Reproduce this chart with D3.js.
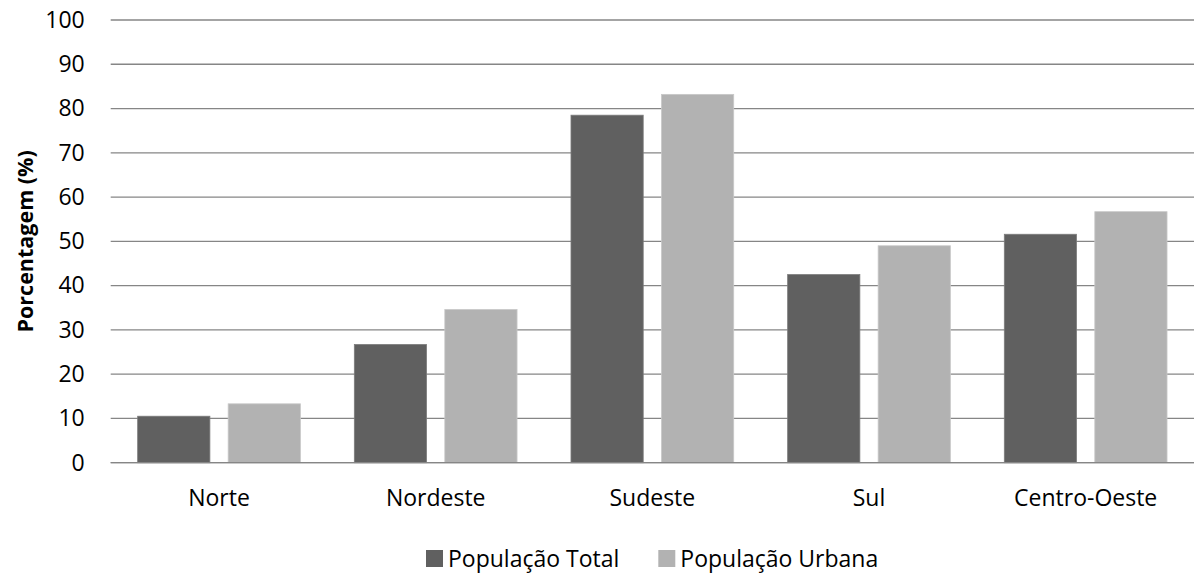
<!DOCTYPE html>
<html>
<head>
<meta charset="utf-8">
<script src="https://cdn.jsdelivr.net/npm/d3@7"></script>
<style>
  html, body { margin: 0; padding: 0; background: #fff; }
  svg { display: block; font-family: "Open Sans", sans-serif; }
</style>
</head>
<body>
<svg id="chart" width="1194" height="573"></svg>
<script>
// Regions of Brazil and the share of each population series (%)
const regions = ["Norte", "Nordeste", "Sudeste", "Sul", "Centro-Oeste"];
const seriesNames = ["População Total", "População Urbana"];
const populacaoTotal = [10.5, 26.7, 78.5, 42.5, 51.6];
const populacaoUrbana = [13.3, 34.6, 83.2, 49.0, 56.7];
const yTicks = [0, 10, 20, 30, 40, 50, 60, 70, 80, 90, 100];
const colors = ["#606060", "#b2b2b2"];
const strokes = ["#7c7c7c", "#c8c8c8"];

const svg = d3.select("#chart");
const margin = { left: 110.7, right: 0, top: 20, bottom: 110.3 };
const W = 1194, H = 573;
const plotH = H - margin.top - margin.bottom;

const x = d3.scaleBand().domain(regions).range([margin.left, W - margin.right]).padding(0);
const xs = d3.scaleBand().domain(seriesNames).range([0, x.bandwidth()])
  .paddingInner(0.202).paddingOuter(0.298);
const y = d3.scaleLinear().domain([0, 100]).range([margin.top + plotH, margin.top]);

// Horizontal gridlines
svg.append("g")
  .selectAll("line")
  .data(yTicks)
  .join("line")
  .attr("x1", margin.left)
  .attr("x2", W - margin.right)
  .attr("y1", d => y(d))
  .attr("y2", d => y(d))
  .attr("stroke", "#868686")
  .attr("stroke-width", 1.3);

// Y axis labels
const yAxis = svg.append("g")
  .attr("transform", `translate(${margin.left},0)`)
  .call(d3.axisLeft(y).tickValues(yTicks).tickSize(0).tickPadding(26));
yAxis.select(".domain").remove();
yAxis.selectAll("text")
  .attr("font-family", "Open Sans, sans-serif")
  .attr("font-size", 23)
  .attr("fill", "#000");

// Bars
const rows = regions.map((r, i) => ({ region: r, values: [populacaoTotal[i], populacaoUrbana[i]] }));
const groups = svg.append("g")
  .selectAll("g")
  .data(rows)
  .join("g")
  .attr("transform", d => `translate(${x(d.region)},0)`);

groups.selectAll("rect")
  .data(d => d.values.map((v, k) => ({ series: seriesNames[k], value: v, k })))
  .join("rect")
  .attr("x", d => xs(d.series))
  .attr("width", xs.bandwidth())
  .attr("y", d => y(d.value))
  .attr("height", d => y(0) - y(d.value))
  .attr("fill", d => colors[d.k])
  .attr("stroke", d => strokes[d.k])
  .attr("stroke-width", 0.8);

// Baseline redrawn over bars
svg.append("line")
  .attr("x1", margin.left).attr("x2", W - margin.right)
  .attr("y1", y(0)).attr("y2", y(0))
  .attr("stroke", "#868686").attr("stroke-width", 1.3);

// X axis category labels
const xAxis = svg.append("g")
  .attr("transform", `translate(0,${y(0)})`)
  .call(d3.axisBottom(x).tickSize(0).tickPadding(27));
xAxis.select(".domain").remove();
xAxis.selectAll("text")
  .attr("font-family", "Open Sans, sans-serif")
  .attr("font-size", 23)
  .attr("fill", "#000");

// Y axis title
svg.append("text")
  .attr("transform", `translate(33,${margin.top + plotH / 2}) rotate(-90)`)
  .attr("text-anchor", "middle")
  .attr("font-weight", "bold")
  .attr("font-size", 21.5)
  .attr("fill", "#000")
  .text("Porcentagem (%)");

// Legend
const legendItems = [
  { name: seriesNames[0], color: colors[0], x: 426 },
  { name: seriesNames[1], color: colors[1], x: 658.3 }
];
const legend = svg.append("g").selectAll("g")
  .data(legendItems)
  .join("g")
  .attr("transform", d => `translate(${d.x},550)`);
legend.append("rect")
  .attr("width", 17).attr("height", 17)
  .attr("fill", d => d.color);
legend.append("text")
  .attr("x", 22).attr("y", 16.5)
  .attr("font-size", 23)
  .attr("fill", "#000")
  .text(d => d.name);
</script>
</body>
</html>
